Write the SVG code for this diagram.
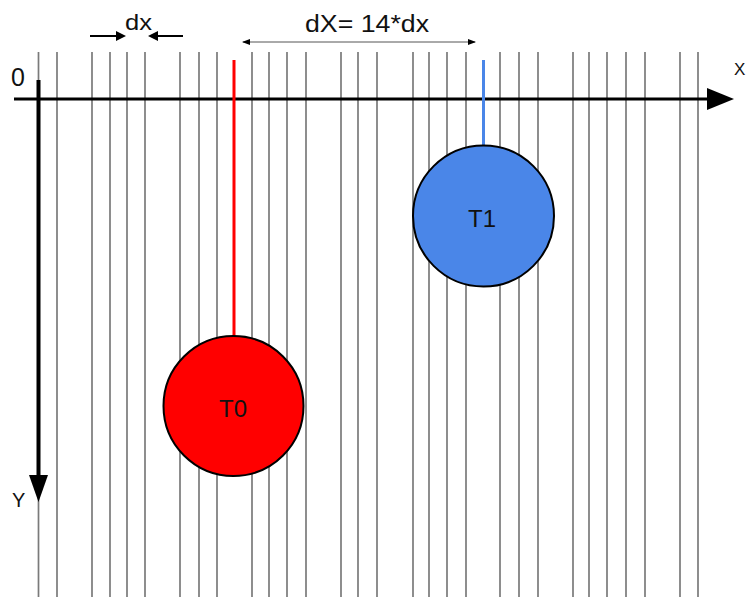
<svg xmlns="http://www.w3.org/2000/svg" width="748" height="597" viewBox="0 0 748 597">
<style>
.grid line{stroke:#7a7a7a;stroke-width:1.7}
text{font-family:"Liberation Sans",Arial,sans-serif;fill:#111}
</style>
<defs>
<marker id="ah" markerWidth="10" markerHeight="10" refX="8" refY="5" orient="auto" markerUnits="userSpaceOnUse"><path d="M0,0 L10,5 L0,10 Z" fill="#000"/></marker>
<marker id="ahs" markerWidth="8" markerHeight="8" refX="7" refY="4" orient="auto-start-reverse" markerUnits="userSpaceOnUse"><path d="M0,1 L8,4 L0,7 Z" fill="#000"/></marker>
</defs>
<rect width="748" height="597" fill="#fff"/>
<g class="grid" id="grid">
<line x1="38.5" y1="52" x2="38.5" y2="597"/>
<line x1="57" y1="52" x2="57" y2="597"/>
<line x1="92" y1="52" x2="92" y2="597"/>
<line x1="110" y1="52" x2="110" y2="597"/>
<line x1="127" y1="52" x2="127" y2="597"/>
<line x1="145" y1="52" x2="145" y2="597"/>
<line x1="180" y1="52" x2="180" y2="597"/>
<line x1="199" y1="52" x2="199" y2="597"/>
<line x1="217" y1="52" x2="217" y2="597"/>
<line x1="252" y1="52" x2="252" y2="597"/>
<line x1="269" y1="52" x2="269" y2="597"/>
<line x1="287" y1="52" x2="287" y2="597"/>
<line x1="306" y1="52" x2="306" y2="597"/>
<line x1="341" y1="52" x2="341" y2="597"/>
<line x1="358" y1="52" x2="358" y2="597"/>
<line x1="377" y1="52" x2="377" y2="597"/>
<line x1="413" y1="52" x2="413" y2="597"/>
<line x1="429" y1="52" x2="429" y2="597"/>
<line x1="447" y1="52" x2="447" y2="597"/>
<line x1="466" y1="52" x2="466" y2="597"/>
<line x1="500" y1="52" x2="500" y2="597"/>
<line x1="519" y1="52" x2="519" y2="597"/>
<line x1="538" y1="52" x2="538" y2="597"/>
<line x1="573" y1="52" x2="573" y2="597"/>
<line x1="589" y1="52" x2="589" y2="597"/>
<line x1="607" y1="52" x2="607" y2="597"/>
<line x1="626" y1="52" x2="626" y2="597"/>
<line x1="645" y1="52" x2="645" y2="597"/>
<line x1="680" y1="52" x2="680" y2="597"/>
<line x1="698" y1="52" x2="698" y2="597"/>
</g>
<g id="connectors">
<line x1="14" y1="99" x2="712" y2="99" stroke="#000" stroke-width="3"/>
<path d="M707,88 L734,99 L707,110 Z" fill="#000"/>
<line x1="38.5" y1="80" x2="38.5" y2="480" stroke="#000" stroke-width="4"/>
<path d="M29,475 L38.5,502 L48,475 Z" fill="#000"/>
<line x1="90" y1="36" x2="124" y2="36" stroke="#000" stroke-width="2" marker-end="url(#ah)"/>
<line x1="183" y1="36" x2="150" y2="36" stroke="#000" stroke-width="2" marker-end="url(#ah)"/>
<line x1="243" y1="42" x2="475" y2="42" stroke="#555" stroke-width="1" marker-start="url(#ahs)" marker-end="url(#ahs)"/>
<line x1="234" y1="60" x2="234" y2="336" stroke="#ff0000" stroke-width="3"/>
<line x1="483.5" y1="60" x2="483.5" y2="146" stroke="#4a86e8" stroke-width="3"/>
</g>
<g id="T0">
<circle cx="233.5" cy="406" r="70" fill="#ff0000" stroke="#000" stroke-width="2"/>
<text x="233" y="417" font-size="24" text-anchor="middle">T0</text>
</g>
<g id="T1">
<circle cx="483.5" cy="216" r="70.5" fill="#4a86e8" stroke="#000" stroke-width="2"/>
<text x="482" y="227" font-size="24" text-anchor="middle">T1</text>
</g>
<g id="labels">
<text x="11" y="86" font-size="25">0</text>
<text x="734" y="75" font-size="17">X</text>
<text x="12" y="507" font-size="20">Y</text>
<text x="125" y="30" font-size="22" textLength="27" lengthAdjust="spacingAndGlyphs">dx</text>
<text x="305" y="32" font-size="23" textLength="124" lengthAdjust="spacingAndGlyphs">dX= 14*dx</text>
</g>
</svg>
